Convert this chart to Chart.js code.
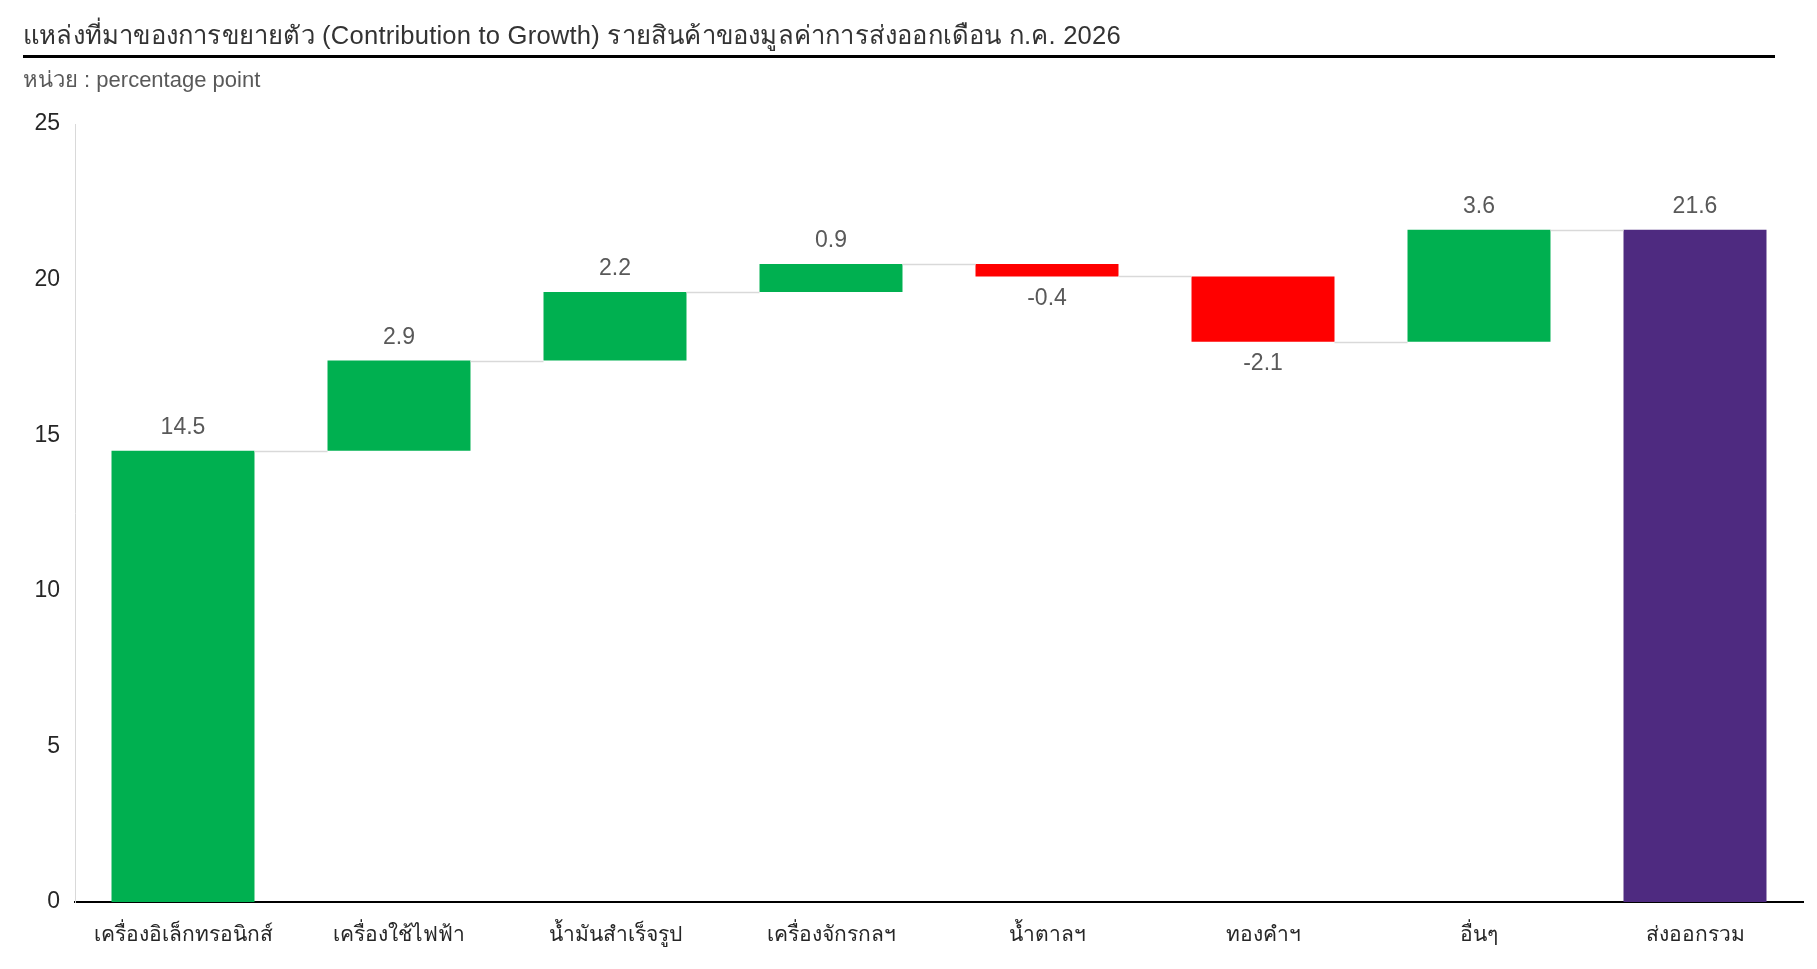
<!DOCTYPE html>
<html>
<head>
<meta charset="utf-8">
<script src="https://cdn.jsdelivr.net/npm/chart.js@4.4.1/dist/chart.umd.min.js"></script>
<style>
  html, body { margin: 0; padding: 0; background: #ffffff; }
  #wrap { position: relative; width: 1817px; height: 969px; overflow: hidden; }
  #title { position: absolute; left: 23px; top: 19px; font: 25.6px 'Liberation Sans', Arial, sans-serif; letter-spacing: 0.2px; color: #333333; white-space: nowrap; line-height: 32px; }
  #rule { position: absolute; left: 23px; top: 55px; width: 1752px; height: 3px; background: #000; }
  #subtitle { position: absolute; left: 23px; top: 66px; font: 22px 'Liberation Sans', Arial, sans-serif; color: #595959; white-space: nowrap; line-height: 28px; }
  canvas { position: absolute; left: 0; top: 0; }
</style>
</head>
<body>
<div id="wrap">
  <canvas id="c" width="1817" height="969"></canvas>
  <div id="title">แหล่งที่มาของการขยายตัว (Contribution to Growth) รายสินค้าของมูลค่าการส่งออกเดือน ก.ค. 2026</div>
  <div id="rule"></div>
  <div id="subtitle">หน่วย : percentage point</div>
</div>
<script>
// ---- data ----
const categories = ['เครื่องอิเล็กทรอนิกส์', 'เครื่องใช้ไฟฟ้า', 'น้ำมันสำเร็จรูป', 'เครื่องจักรกลฯ', 'น้ำตาลฯ', 'ทองคำฯ', 'อื่นๆ', 'ส่งออกรวม'];
const contributions = [14.5, 2.9, 2.2, 0.9, -0.4, -2.1, 3.6];
const totalValue = 21.6;
const yTicks = [0, 5, 10, 15, 20, 25];

// ---- colours ----
const COLOR_UP = '#00B050';
const COLOR_DOWN = '#FF0000';
const COLOR_TOTAL = '#4E2A80';

// build floating ranges from contributions
const ranges = [];
const labelsText = [];
const colors = [];
let run = 0;
contributions.forEach(v => {
  const start = run;
  const end = +(run + v).toFixed(4);
  ranges.push([start, end]);
  labelsText.push(v.toFixed(1));
  colors.push(v >= 0 ? COLOR_UP : COLOR_DOWN);
  run = end;
});
ranges.push([0, totalValue]);
labelsText.push(totalValue.toFixed(1));
colors.push(COLOR_TOTAL);

const FONT = "'Liberation Sans', Arial, sans-serif";

const waterfallPlugin = {
  id: 'waterfallExtras',
  afterDatasetsDraw(chart) {
    const ctx = chart.ctx;
    const meta = chart.getDatasetMeta(0);
    const y = chart.scales.y;
    ctx.save();
    // connectors
    ctx.strokeStyle = '#d9d9d9';
    ctx.lineWidth = 1.5;
    for (let i = 0; i < meta.data.length - 1; i++) {
      const a = meta.data[i], b = meta.data[i + 1];
      const level = ranges[i][1];
      const py = Math.round(y.getPixelForValue(level)) + 0.5;
      ctx.beginPath();
      ctx.moveTo(a.x + a.width / 2, py);
      ctx.lineTo(b.x - b.width / 2, py);
      ctx.stroke();
    }
    // value labels
    ctx.fillStyle = '#595959';
    ctx.font = '23px ' + FONT;
    ctx.textAlign = 'center';
    ctx.textBaseline = 'middle';
    meta.data.forEach((bar, i) => {
      const r = ranges[i];
      const top = Math.max(r[0], r[1]);
      const bottom = Math.min(r[0], r[1]);
      const neg = (i < contributions.length) && contributions[i] < 0;
      let py;
      if (neg) py = y.getPixelForValue(bottom) + 22;
      else py = y.getPixelForValue(top) - 23;
      ctx.fillText(labelsText[i], bar.x, py);
    });
    ctx.restore();
  }
};

new Chart(document.getElementById('c'), {
  type: 'bar',
  data: {
    labels: categories,
    datasets: [{
      data: ranges,
      backgroundColor: colors,
      borderWidth: 0,
      borderSkipped: false,
      categoryPercentage: 1.0,
      barPercentage: 0.662
    }]
  },
  options: {
    responsive: false,
    animation: false,
    devicePixelRatio: 1,
    layout: { padding: { left: 0, right: 14, top: 124, bottom: 0 } },
    plugins: {
      legend: { display: false },
      tooltip: { enabled: false },
      title: { display: false }
    },
    scales: {
      x: {
        grid: { display: false, drawTicks: false },
        border: { display: true, color: '#000000', width: 2 },
        ticks: { color: '#262626', font: { family: FONT, size: 21 }, padding: 21, maxRotation: 0, autoSkip: false },
        afterFit(scale) { scale.height = 67; }
      },
      y: {
        min: 0,
        max: 25,
        afterBuildTicks(scale) { scale.ticks = yTicks.map(v => ({ value: v })); },
        grid: { display: false, drawTicks: false },
        border: { display: true, color: '#d9d9d9', width: 1 },
        ticks: { color: '#262626', font: { family: FONT, size: 23 }, padding: 15 },
        afterFit(scale) { scale.width = 75; }
      }
    }
  },
  plugins: [waterfallPlugin]
});
</script>
</body>
</html>
